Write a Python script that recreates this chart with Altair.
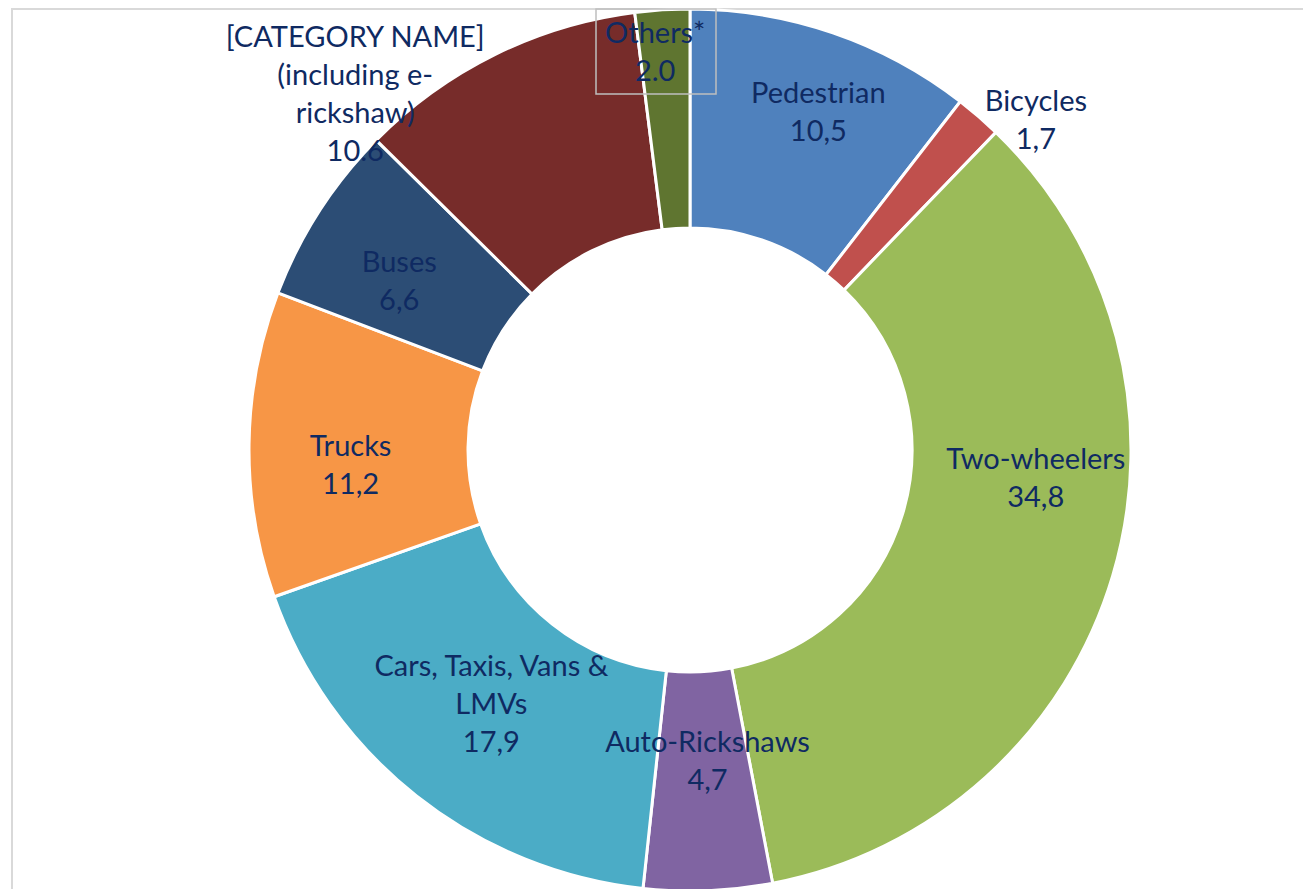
import math
import altair as alt
import pandas as pd

# ---- data ----
categories = [
    "Pedestrian",
    "Bicycles",
    "Two-wheelers",
    "Auto-Rickshaws",
    "Cars, Taxis, Vans & LMVs",
    "Trucks",
    "Buses",
    "[CATEGORY NAME] (including e-rickshaw)",
    "Others*",
]
values = [10.5, 1.7, 34.8, 4.7, 17.9, 11.2, 6.6, 10.6, 2.0]
label_names = [
    "Pedestrian",
    "Bicycles",
    "Two-wheelers",
    "Auto-Rickshaws",
    "Cars, Taxis, Vans &\nLMVs",
    "Trucks",
    "Buses",
    "[CATEGORY NAME]\n(including e-\nrickshaw)",
    "Others*",
]
value_labels = ["10,5", "1,7", "34,8", "4,7", "17,9", "11,2", "6,6", "10.6", "2.0"]

# ---- styles ----
colors = ["#4F81BD", "#C0504D", "#9BBB59", "#8064A2", "#4BACC6",
          "#F79646", "#2C4D75", "#772C2A", "#5F7530"]
TEXT = "#0F2A62"
FONT = "Lato"
W, H = 1295, 881
CX, CY = 682, 442
R_OUT, R_IN = 441, 222
R_LABEL = (R_OUT + R_IN) / 2

# manual label offsets (dx, dy) from each slice's mid-ring anchor
label_offsets = {
    "Pedestrian": (21, -42),
    "Bicycles": (129, -97),
    "Two-wheelers": (28, -84),
    "Auto-Rickshaws": (4, -38),
    "Cars, Taxis, Vans & LMVs": (7, -43),
    "Trucks": (-8, 1),
    "Buses": (-12, -8),
    "[CATEGORY NAME] (including e-rickshaw)": (-188, -115),
    "Others*": (-14, -85),
}

df = pd.DataFrame({
    "idx": list(range(len(categories))),
    "category": categories,
    "value": values,
    "label": [n + "\n" + v for n, v in zip(label_names, value_labels)],
})

theta_scale = alt.Scale(domain=[0, 100], range=[0, 2 * math.pi])

base = (
    alt.Chart(df)
    .transform_window(cum="sum(value)", sort=[alt.SortField("idx")], frame=[None, 0])
    .transform_calculate(start="datum.cum - datum.value", mid="datum.cum - datum.value / 2")
)

arcs = base.mark_arc(innerRadius=R_IN, outerRadius=R_OUT, stroke="white", strokeWidth=3).encode(
    x=alt.value(CX),
    y=alt.value(CY),
    theta=alt.Theta("start:Q", stack=False, scale=theta_scale),
    theta2="cum:Q",
    color=alt.Color("category:N", scale=alt.Scale(domain=categories, range=colors), legend=None),
)

texts = []
for cat, (dx, dy) in label_offsets.items():
    texts.append(
        base.transform_filter(alt.datum.category == cat)
        .mark_text(radius=R_LABEL, dx=dx, dy=dy, font=FONT, fontSize=29, color=TEXT,
                   lineBreak="\n", lineHeight=38, align="center", baseline="middle")
        .encode(
            x=alt.value(CX),
            y=alt.value(CY),
            theta=alt.Theta("mid:Q", stack=False, scale=theta_scale),
            text="label:N",
        )
    )

dummy = pd.DataFrame({"a": [0]})
border_left = alt.Chart(dummy).mark_rule(color="#D9D9D9", strokeWidth=2).encode(
    x=alt.value(4), y=alt.value(0), y2=alt.value(H))
border_top = alt.Chart(dummy).mark_rule(color="#D9D9D9", strokeWidth=2).encode(
    x=alt.value(4), x2=alt.value(W), y=alt.value(1))
others_box = alt.Chart(dummy).mark_rect(fillOpacity=0, stroke="#BFBFBF", strokeWidth=1.5).encode(
    x=alt.value(588), x2=alt.value(708), y=alt.value(1), y2=alt.value(86))

chart = (
    alt.layer(border_left, border_top, arcs, others_box, *texts)
    .properties(width=W, height=H, padding=0, autosize=alt.AutoSizeParams(type="none"))
    .configure_view(strokeWidth=0)
)

chart.save("out.html", embed_options={"renderer": "svg", "actions": False})
